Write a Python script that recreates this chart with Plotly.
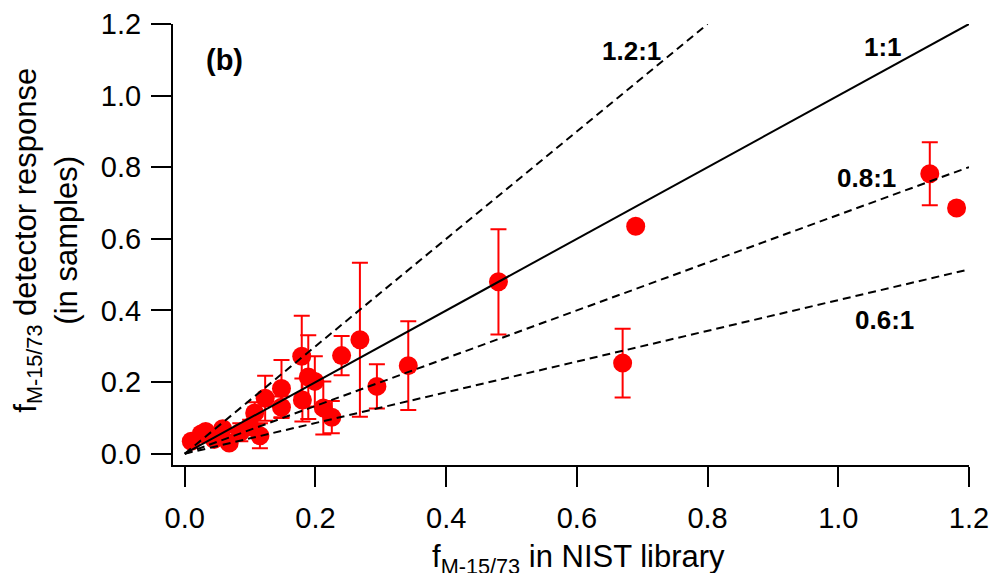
import plotly.graph_objects as go

# ---- data ----
nist_x = [0.010, 0.025, 0.032, 0.045, 0.058, 0.068, 0.085, 0.100, 0.107, 0.115,
          0.123, 0.148, 0.148, 0.179, 0.180, 0.189, 0.199, 0.212, 0.225, 0.240,
          0.268, 0.294, 0.342, 0.480, 0.670, 0.690, 1.140, 1.181]
det_y = [0.035, 0.055, 0.062, 0.040, 0.070, 0.030, 0.060, 0.075, 0.114, 0.050,
         0.155, 0.182, 0.130, 0.272, 0.150, 0.214, 0.202, 0.128, 0.102, 0.274,
         0.318, 0.188, 0.246, 0.480, 0.253, 0.635, 0.782, 0.686]
det_err = [0.005, 0.005, 0.005, 0.006, 0.008, 0.006, 0.025, 0.020, 0.030, 0.035,
           0.063, 0.080, 0.030, 0.113, 0.060, 0.117, 0.070, 0.074, 0.045, 0.055,
           0.215, 0.062, 0.124, 0.147, 0.096, 0.000, 0.088, 0.012]

ratio_labels = ["1.2:1", "1:1", "0.8:1", "0.6:1"]
ratio_slopes = [1.5, 1.0, 0.667, 0.429]
ratio_xend = [0.80, 1.20, 1.20, 1.20]
ratio_dash = ["8px,5px", "solid", "8px,5px", "8px,5px"]
label_x = [0.684, 1.068, 1.043, 1.071]
label_y = [1.126, 1.135, 0.770, 0.374]

x_ticks = [0.0, 0.2, 0.4, 0.6, 0.8, 1.0, 1.2]
y_ticks = [0.0, 0.2, 0.4, 0.6, 0.8, 1.0, 1.2]

FONT = "Liberation Sans, Arial, sans-serif"

fig = go.Figure()

fig.add_trace(go.Scatter(
    x=nist_x, y=det_y, mode="markers",
    marker=dict(color="#ff0000", size=19, line=dict(width=0)),
    error_y=dict(type="data", array=det_err, visible=True,
                 color="#ff0000", thickness=2, width=8),
    showlegend=False, hoverinfo="skip"))

for lab, s, xe, d in zip(ratio_labels, ratio_slopes, ratio_xend, ratio_dash):
    fig.add_trace(go.Scatter(
        x=[0, xe], y=[0, s * xe], mode="lines",
        line=dict(color="black", width=2, dash=d),
        showlegend=False, hoverinfo="skip", name=lab))

annotations = []
for lab, lx, ly in zip(ratio_labels, label_x, label_y):
    annotations.append(dict(x=lx, y=ly, xref="x", yref="y", text="<b>%s</b>" % lab,
                            showarrow=False, font=dict(family=FONT, size=26, color="black")))
annotations.append(dict(x=0.0615, y=1.10, xref="x", yref="y", text="<b>(b)</b>",
                        showarrow=False, font=dict(family=FONT, size=29, color="black")))
# y-axis title (two lines)
annotations.append(dict(x=-0.1826, y=0.51, xref="paper", yref="paper",
                        text="f<sub>M-15/73</sub> detector response", textangle=-90,
                        showarrow=False, xanchor="center", yanchor="middle",
                        font=dict(family=FONT, size=31, color="black")))
annotations.append(dict(x=-0.1337, y=0.51, xref="paper", yref="paper",
                        text="(in samples)", textangle=-90,
                        showarrow=False, xanchor="center", yanchor="middle",
                        font=dict(family=FONT, size=31, color="black")))
# x-axis title
annotations.append(dict(x=0.5097, y=-0.163, xref="paper", yref="paper",
                        text="f<sub>M-15/73</sub> in NIST library",
                        showarrow=False, xanchor="center", yanchor="top",
                        font=dict(family=FONT, size=31, color="black")))

# the page body adds an 8px offset, so the figure is sized/margined to compensate
fig.update_layout(
    width=989, height=565,
    margin=dict(l=165, r=28, t=16, b=108, autoexpand=False),
    paper_bgcolor="white", plot_bgcolor="white",
    annotations=annotations,
    xaxis=dict(range=[-0.018, 1.2], tickvals=x_ticks,
               ticktext=["%.1f" % v for v in x_ticks], automargin=False,
               showgrid=False, zeroline=False, showline=True,
               linecolor="black", linewidth=2,
               ticks="outside", ticklen=20, tickwidth=2, tickcolor="black",
               tickfont=dict(family=FONT, size=29, color="black"),
               ticklabelstandoff=6),
    yaxis=dict(range=[-0.0315, 1.2], tickvals=y_ticks,
               ticktext=["%.1f" % v for v in y_ticks], automargin=False,
               showgrid=False, zeroline=False, showline=True,
               linecolor="black", linewidth=2,
               ticks="outside", ticklen=20, tickwidth=2, tickcolor="black",
               tickfont=dict(family=FONT, size=29, color="black"),
               ticklabelstandoff=4),
)

fig.write_html("out.html")
